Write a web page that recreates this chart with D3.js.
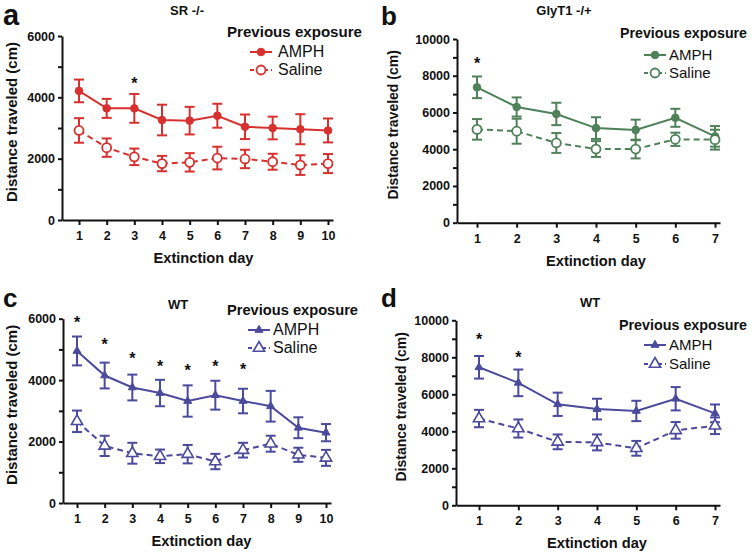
<!DOCTYPE html>
<html>
  <head>
    <meta charset="utf-8">
    <title>Extinction day locomotion</title>
    <style>
      body { margin: 0; background: #fff; }
      svg text { font-family: "Liberation Sans", Arial, sans-serif; }
      g.axis text { font-size: 12.5px; font-weight: bold; fill: #111; }
      g.axis path, g.axis line { stroke: #111; stroke-width: 2px; }
      text.axisLabel { font-weight: bold; fill: #111; }
      text.panelTitle { font-size: 13px; font-weight: bold; fill: #111; }
      text.panelLetter { font-weight: bold; fill: #111; }
      text.legendTitle { font-weight: bold; fill: #111; }
      text.legendItem { fill: #111; }
      text.star { font-size: 16px; font-weight: bold; fill: #111; }
    </style>
  </head>
  <body>
    <svg id="chart" width="754" height="554"></svg>

    <script src="https://cdnjs.cloudflare.com/ajax/libs/d3/7.8.5/d3.min.js"></script>
    <script>
      // Days
      var days10 = [1, 2, 3, 4, 5, 6, 7, 8, 9, 10];
      var days7 = [1, 2, 3, 4, 5, 6, 7];

      // a: SR -/-
      var srAmph = [4210, 3640, 3640, 3260, 3240, 3400, 3040, 3000, 2960, 2920];
      var srAmphErr = [370, 310, 470, 500, 450, 390, 400, 370, 490, 390];
      var srSaline = [2920, 2360, 2060, 1840, 1880, 2020, 1990, 1900, 1790, 1840];
      var srSalineErr = [400, 300, 270, 250, 300, 370, 300, 260, 320, 310];
      var srStars = [{day: 3, value: 4600}];

      // b: GlyT1 -/+
      var glyAmph = [7370, 6300, 5920, 5150, 5050, 5710, 4700];
      var glyAmphErr = [590, 520, 610, 590, 560, 490, 560];
      var glySaline = [5080, 4980, 4340, 4010, 4010, 4540, 4520];
      var glySalineErr = [560, 680, 540, 430, 510, 360, 540];
      var glyStars = [{day: 1, value: 8900}];

      // c: WT (10 days)
      var wtcAmph = [4950, 4150, 3760, 3580, 3320, 3510, 3320, 3150, 2450, 2290];
      var wtcAmphErr = [470, 420, 420, 430, 510, 470, 400, 500, 340, 280];
      var wtcSaline = [2660, 1860, 1620, 1520, 1590, 1350, 1720, 1930, 1570, 1470];
      var wtcSalineErr = [350, 330, 340, 220, 300, 250, 240, 260, 230, 260];
      var wtcStars = [
        {day: 1, value: 6020}, {day: 2, value: 5300}, {day: 3, value: 4850},
        {day: 4, value: 4590}, {day: 5, value: 4460}, {day: 6, value: 4590},
        {day: 7, value: 4490}
      ];

      // d: WT (7 days)
      var wtdAmph = [7460, 6620, 5460, 5200, 5100, 5760, 4970];
      var wtdAmphErr = [610, 720, 630, 560, 550, 630, 480];
      var wtdSaline = [4690, 4150, 3430, 3400, 3080, 4050, 4300];
      var wtdSalineErr = [470, 490, 400, 430, 400, 450, 450];
      var wtdStars = [{day: 1, value: 9200}, {day: 2, value: 8230}];

      var yTicks6 = [0, 2000, 4000, 6000];
      var yTicks10 = [0, 2000, 4000, 6000, 8000, 10000];

      var red = '#d8302e', green = '#4e8159', purple = '#4b4a9c';

      var panels = [
        {letter: 'a', title: 'SR -/-', days: days10, color: red, shape: 'circle',
         amph: srAmph, amphErr: srAmphErr, saline: srSaline, salineErr: srSalineErr, stars: srStars,
         yMax: 6000, yTicks: yTicks6,
         xLeft: 62, xRight: 333, day1: 79, dayN: 328, yTop: 36, yBottom: 220,
         letterPos: [3, 25], letterSize: 29, titlePos: [187, 15], yLabelX: 17, yLabelSize: 15,
         legend: {titleX: 227, titleY: 37, size: 15, width: 135, lineX: 250, textX: 278, rowY: [52, 70]}},
        {letter: 'b', title: 'GlyT1 -/+', days: days7, color: green, shape: 'circle',
         amph: glyAmph, amphErr: glyAmphErr, saline: glySaline, salineErr: glySalineErr, stars: glyStars,
         yMax: 10000, yTicks: yTicks10,
         xLeft: 457, xRight: 720, day1: 477, dayN: 715, yTop: 39, yBottom: 222.7,
         letterPos: [381, 25], letterSize: 26, titlePos: [564, 15], yLabelX: 398, yLabelSize: 14,
         legend: {titleX: 620, titleY: 38, size: 14, width: 127, lineX: 644, textX: 669, rowY: [55, 73]}},
        {letter: 'c', title: 'WT', days: days10, color: purple, shape: 'triangle',
         amph: wtcAmph, amphErr: wtcAmphErr, saline: wtcSaline, salineErr: wtcSalineErr, stars: wtcStars,
         yMax: 6000, yTicks: yTicks6,
         xLeft: 63, xRight: 331, day1: 77, dayN: 326, yTop: 318.7, yBottom: 503,
         letterPos: [3, 307], letterSize: 26, titlePos: [178, 309], yLabelX: 17, yLabelSize: 15,
         legend: {titleX: 227, titleY: 315, size: 15, width: 131, lineX: 248, textX: 273, rowY: [330, 348]}},
        {letter: 'd', title: 'WT', days: days7, color: purple, shape: 'triangle',
         amph: wtdAmph, amphErr: wtdAmphErr, saline: wtdSaline, salineErr: wtdSalineErr, stars: wtdStars,
         yMax: 10000, yTicks: yTicks10,
         xLeft: 456, xRight: 720, day1: 479, dayN: 715, yTop: 320.3, yBottom: 505.3,
         letterPos: [381, 307], letterSize: 26, titlePos: [590, 307], yLabelX: 406, yLabelSize: 14,
         legend: {titleX: 619, titleY: 330, size: 14, width: 128, lineX: 644, textX: 669, rowY: [345, 364]}}
      ];

      var svg = d3.select('#chart');
      svg.append('rect').attr('width', 754).attr('height', 554).attr('fill', '#fff');

      function drawMarker(sel, shape, open, color) {
        if (shape === 'circle') {
          sel.append('circle')
            .attr('r', open ? 4.5 : 3.8)
            .attr('fill', open ? '#fff' : color)
            .attr('stroke', color)
            .attr('stroke-width', open ? 1.8 : 1);
        } else {
          sel.append('path')
            .attr('d', d3.symbol().type(d3.symbolTriangle).size(open ? 55 : 28)())
            .attr('fill', open ? '#fff' : color)
            .attr('stroke', color)
            .attr('stroke-width', open ? 1.6 : 1);
        }
      }

      panels.forEach(function(p) {
        var g = svg.append('g');
        var n = p.days.length;
        var step = (p.dayN - p.day1) / (n - 1);

        var x = d3.scaleLinear()
          .domain([1 - (p.day1 - p.xLeft) / step, n + (p.xRight - p.dayN) / step])
          .range([p.xLeft, p.xRight]);
        var y = d3.scaleLinear().domain([0, p.yMax]).range([p.yBottom, p.yTop]);

        // Axes
        var minor = d3.range(1000, p.yMax, 2000);
        g.append('g')
          .attr('class', 'axis')
          .attr('transform', 'translate(' + p.xLeft + ',0)')
          .call(d3.axisLeft(y).tickValues(minor).tickSize(4).tickFormat(''))
          .select('path').remove();
        g.append('g')
          .attr('class', 'axis')
          .attr('transform', 'translate(' + p.xLeft + ',0)')
          .call(d3.axisLeft(y).tickValues(p.yTicks).tickSize(4).tickSizeOuter(0).tickPadding(3).tickFormat(d3.format('d')));
        g.append('g')
          .attr('class', 'axis')
          .attr('transform', 'translate(0,' + p.yBottom + ')')
          .call(d3.axisBottom(x).tickValues(p.days).tickSize(5).tickSizeOuter(0).tickPadding(6).tickFormat(d3.format('d')));

        // Axis labels
        g.append('text')
          .attr('class', 'axisLabel')
          .attr('text-anchor', 'middle')
          .style('font-size', '15.5px')
          .attr('textLength', 100)
          .attr('lengthAdjust', 'spacingAndGlyphs')
          .attr('x', (x(1) + x(n)) / 2)
          .attr('y', p.yBottom + 43)
          .text('Extinction day');
        g.append('text')
          .attr('class', 'axisLabel')
          .attr('text-anchor', 'middle')
          .style('font-size', p.yLabelSize + 'px')
          .attr('transform', 'translate(' + p.yLabelX + ',' + ((p.yTop + p.yBottom) / 2 - 6) + ') rotate(-90)')
          .text('Distance traveled (cm)');

        // Title and letter
        g.append('text').attr('class', 'panelTitle').attr('text-anchor', 'middle')
          .attr('x', p.titlePos[0]).attr('y', p.titlePos[1]).text(p.title);
        g.append('text').attr('class', 'panelLetter')
          .style('font-size', p.letterSize + 'px')
          .attr('x', p.letterPos[0]).attr('y', p.letterPos[1]).text(p.letter);

        var series = [
          {vals: p.amph, err: p.amphErr, open: false, dash: null},
          {vals: p.saline, err: p.salineErr, open: true, dash: '6,4'}
        ];

        series.forEach(function(s) {
          var pts = p.days.map(function(d, i) { return {day: d, v: s.vals[i], e: s.err[i]}; });
          var eb = g.append('g').attr('stroke', p.color).attr('stroke-width', 2).attr('fill', 'none');
          pts.forEach(function(d) {
            var cx = x(d.day);
            eb.append('line').attr('x1', cx).attr('x2', cx).attr('y1', y(d.v + d.e)).attr('y2', y(d.v - d.e));
            eb.append('line').attr('x1', cx - 5).attr('x2', cx + 5).attr('y1', y(d.v + d.e)).attr('y2', y(d.v + d.e));
            eb.append('line').attr('x1', cx - 5).attr('x2', cx + 5).attr('y1', y(d.v - d.e)).attr('y2', y(d.v - d.e));
          });
          g.append('path')
            .datum(pts)
            .attr('fill', 'none')
            .attr('stroke', p.color)
            .attr('stroke-width', 2)
            .attr('stroke-dasharray', s.dash)
            .attr('d', d3.line().x(function(d) { return x(d.day); }).y(function(d) { return y(d.v); }));
          pts.forEach(function(d) {
            var m = g.append('g').attr('transform', 'translate(' + x(d.day) + ',' + y(d.v) + ')');
            drawMarker(m, p.shape, s.open, p.color);
          });
        });

        // Significance stars
        g.selectAll('text.star')
          .data(p.stars)
          .enter()
          .append('text')
          .attr('class', 'star')
          .attr('text-anchor', 'middle')
          .attr('x', function(d) { return x(d.day); })
          .attr('y', function(d) { return y(d.value) + 10; })
          .text('*');

        // Legend
        var L = p.legend;
        g.append('text').attr('class', 'legendTitle')
          .attr('x', L.titleX).attr('y', L.titleY)
          .style('font-size', L.size + 'px')
          .attr('textLength', L.width)
          .attr('lengthAdjust', 'spacingAndGlyphs')
          .text('Previous exposure');
        ['AMPH', 'Saline'].forEach(function(name, i) {
          var ly = L.rowY[i];
          g.append('line')
            .attr('x1', L.lineX).attr('x2', L.lineX + 22)
            .attr('y1', ly).attr('y2', ly)
            .attr('stroke', p.color).attr('stroke-width', 2)
            .attr('stroke-dasharray', i === 1 ? '4,3' : null);
          var m = g.append('g').attr('transform', 'translate(' + (L.lineX + 11) + ',' + ly + ')');
          drawMarker(m, p.shape, i === 1, p.color);
          g.append('text').attr('class', 'legendItem')
            .attr('x', L.textX).attr('y', ly + 5)
            .style('font-size', (L.size + 1) + 'px')
            .text(name);
        });
      });
    </script>
  </body>
</html>
